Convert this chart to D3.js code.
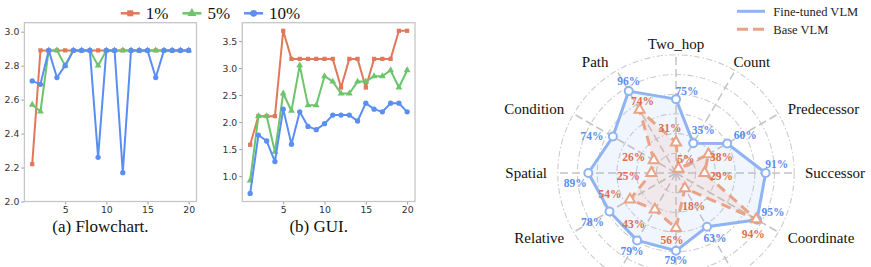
<!DOCTYPE html>
<html><head><meta charset="utf-8">
<script src="https://cdn.jsdelivr.net/npm/d3@7"></script>
<style>body{margin:0;background:#fff;} svg{display:block;}</style>
</head><body><svg id="c" width="871" height="267"></svg>
<script>
// ---------- data ----------
const steps = [1,2,3,4,5,6,7,8,9,10,11,12,13,14,15,16,17,18,19,20];
const seriesNames = ["1%","5%","10%"];
const flow1  = [2.22,2.89,2.89,2.89,2.89,2.89,2.89,2.89,2.89,2.89,2.89,2.89,2.89,2.89,2.89,2.89,2.89,2.89,2.89,2.89];
const flow5  = [2.57,2.53,2.89,2.89,2.80,2.89,2.89,2.89,2.80,2.89,2.89,2.89,2.89,2.89,2.89,2.89,2.89,2.89,2.89,2.89];
const flow10 = [2.71,2.69,2.89,2.73,2.80,2.89,2.89,2.89,2.26,2.89,2.89,2.17,2.89,2.89,2.89,2.73,2.89,2.89,2.89,2.89];
const gui1   = [1.58,2.11,2.11,2.11,3.69,3.17,3.17,3.17,3.17,3.17,3.17,2.64,3.17,3.17,2.64,3.17,3.17,3.17,3.69,3.69];
const gui5   = [0.92,2.11,2.11,1.45,2.53,2.21,3.05,2.31,2.31,2.85,2.75,2.53,2.53,2.75,2.75,2.85,2.85,2.96,2.64,2.96];
const gui10  = [0.68,1.76,1.65,1.27,2.24,1.59,2.19,1.92,1.86,1.97,2.13,2.13,2.13,2.02,2.35,2.24,2.19,2.35,2.35,2.19];
const flowYTicks = [2.0,2.2,2.4,2.6,2.8,3.0];
const guiYTicks  = [1.0,1.5,2.0,2.5,3.0,3.5];
const xTicks = [5,10,15,20];
const captions = ["(a) Flowchart.","(b) GUI."];

const radarCategories = ["Two_hop","Count","Predecessor","Successor","Coordinate","","","","Relative","Spatial","Condition","Path"];
const fineTuned = [75,35,60,91,95,63,79,79,78,89,74,96];
const baseVLM   = [31,5,38,29,94,18,56,43,54,25,26,74];
const radarLevels = [20,40,60,80,100,120];
const radarSeries = ["Fine-tuned VLM","Base VLM"];

// ---------- layout / styles ----------
// pixel nudges of the value annotations relative to their vertex
const fineLabelNudge = [[11,-8],[10,-13],[18,-8],[11,-9],[16,-8],[8,11],[0,9.5],[-5,11],[-17,11],[-13,10],[-21,-1],[0,-10]];
const baseLabelNudge = [[-6,-14],[7.5,-10],[13,2.5],[17,3],[-3,15],[9,18],[-4,12],[-21,14],[-20,-6],[-23,3],[-20,-3.5],[3,-9]];
const lineColors = ["#e1785a","#6cc46b","#5b8ef1"];
const symbols = [d3.symbolSquare, d3.symbolTriangle, d3.symbolCircle];
const symbolSizes = [18, 20, 22];
const serif = "'Liberation Serif','Times New Roman',serif";
const sans = "'DejaVu Sans',sans-serif";

const svg = d3.select("#c");
svg.append("rect").attr("width",871).attr("height",267).attr("fill","#fff");

function lineChart(box, yDomain, yTicks, data, caption){
  const x = d3.scaleLinear([0.05, 20.95], [box.l, box.r]);
  const y = d3.scaleLinear(yDomain, [box.b, box.t]);
  const g = svg.append("g");
  const ax = g.append("g").attr("transform",`translate(${box.l},0)`)
    .call(d3.axisLeft(y).tickValues(yTicks).tickFormat(d3.format(".1f")).tickSize(3).tickPadding(2));
  const bx = g.append("g").attr("transform",`translate(0,${box.b})`)
    .call(d3.axisBottom(x).tickValues(xTicks).tickSize(3).tickPadding(2));
  [ax,bx].forEach(a=>{
    a.select(".domain").remove();
    a.selectAll("line").attr("stroke","#999");
    a.selectAll("text").attr("font-family",sans).attr("font-size","9.3px").attr("fill","#333");
  });
  g.append("rect").attr("x",box.l).attr("y",box.t).attr("width",box.r-box.l).attr("height",box.b-box.t)
    .attr("fill","none").attr("stroke","#c6c6c6").attr("stroke-width",1.3);
  data.forEach((vals,si)=>{
    const pts = steps.map((s,i)=>[s,vals[i]]);
    g.append("path").datum(pts).attr("fill","none").attr("stroke",lineColors[si]).attr("stroke-width",2)
      .attr("stroke-linejoin","round")
      .attr("d", d3.line().x(d=>x(d[0])).y(d=>y(d[1])));
    g.selectAll(null).data(pts).join("path")
      .attr("transform",d=>`translate(${x(d[0])},${y(d[1])})`)
      .attr("d", d3.symbol(symbols[si], symbolSizes[si]))
      .attr("fill",lineColors[si]);
  });
  g.append("text").attr("x",(box.l-20+box.r)/2).attr("y",232).attr("text-anchor","middle")
    .attr("font-family",serif).attr("font-size","17px").attr("fill","#111").text(caption);
}

lineChart({l:24.4,r:196.5,t:22.7,b:201.5},[2.0,3.053],flowYTicks,[flow1,flow5,flow10],captions[0]);
lineChart({l:242.3,r:415,t:22.7,b:201.5},[0.53,3.84],guiYTicks,[gui1,gui5,gui10],captions[1]);

// legend for line charts
(function(){
  const lg = svg.append("g");
  let xpos = 0;
  seriesNames.forEach((n,i)=>{
    const it = lg.append("g").attr("transform",`translate(${xpos},0)`);
    it.append("line").attr("x1",0).attr("x2",19).attr("y1",0).attr("y2",0).attr("stroke",lineColors[i]).attr("stroke-width",2.5);
    it.append("path").attr("transform","translate(9.5,0)").attr("d",d3.symbol(symbols[i],36)).attr("fill",lineColors[i]);
    const t = it.append("text").attr("x",25).attr("y",0).attr("dy","0.35em").attr("font-family",serif)
      .attr("font-size","17px").attr("fill","#111").text(n);
    xpos += 25 + t.node().getComputedTextLength() + 14;
  });
  const total = xpos - 14;
  lg.attr("transform",`translate(${210.5-total/2},13.3)`);
})();

// ---------- radar ----------
const cx = 676, cy = 173;
const rS = d3.scaleLinear([0,100],[0,98.5]);
const N = radarCategories.length;
const ang = i => i*2*Math.PI/N;
const pt = (i,r) => [cx + r*Math.sin(ang(i)), cy - r*Math.cos(ang(i))];
const rg = svg.append("g");
radarLevels.forEach(l=>{
  rg.append("circle").attr("cx",cx).attr("cy",cy).attr("r",rS(l)).attr("fill","none")
    .attr("stroke","#cccccc").attr("stroke-width",1.1).attr("stroke-dasharray","6,2.5,1.5,2.5");
});
radarCategories.forEach((c,i)=>{
  const [x2,y2] = pt(i, rS(d3.max(radarLevels)));
  rg.append("line").attr("x1",cx).attr("y1",cy).attr("x2",x2).attr("y2",y2)
    .attr("stroke","#c4c4c4").attr("stroke-width",1.5).attr("stroke-dasharray","8,4");
});
const radial = d3.lineRadial().angle((d,i)=>ang(i)).radius(d=>rS(d)).curve(d3.curveLinearClosed);
const radarColors = ["#8fb4f1","#e9a487"];
const labelColors = ["#5b8def","#dd6f4c"];
rg.append("path").datum(fineTuned).attr("transform",`translate(${cx},${cy})`).attr("d",radial)
  .attr("fill","rgba(143,180,241,0.13)").attr("stroke",radarColors[0]).attr("stroke-width",3).attr("stroke-linejoin","round");
rg.append("path").datum(baseVLM).attr("transform",`translate(${cx},${cy})`).attr("d",radial)
  .attr("fill","rgba(233,164,135,0.15)").attr("stroke",radarColors[1]).attr("stroke-width",3)
  .attr("stroke-dasharray","10,6").attr("stroke-linejoin","round");
fineTuned.forEach((v,i)=>{
  const [x,y] = pt(i,rS(v));
  rg.append("circle").attr("cx",x).attr("cy",y).attr("r",4).attr("fill","#fff").attr("stroke",radarColors[0]).attr("stroke-width",2);
});
baseVLM.forEach((v,i)=>{
  const [x,y] = pt(i,rS(v));
  rg.append("path").attr("transform",`translate(${x},${y})`).attr("d",d3.symbol(d3.symbolTriangle,45))
    .attr("fill","#fff").attr("stroke",radarColors[1]).attr("stroke-width",2);
});
[[fineTuned,0,fineLabelNudge],[baseVLM,1,baseLabelNudge]].forEach(([vals,si,nudge])=>{
  vals.forEach((v,i)=>{
    const [x,y] = pt(i,rS(v));
    rg.append("text").attr("x",x+nudge[i][0]).attr("y",y+nudge[i][1]).attr("dy","0.35em").attr("text-anchor","middle")
      .attr("font-family",serif).attr("font-weight","bold").attr("font-size","11.5px")
      .attr("fill",labelColors[si]).text(v+"%");
  });
});
radarCategories.forEach((c,i)=>{
  if(!c) return;
  const [x,y] = pt(i,129);
  const s = Math.sin(ang(i));
  const shift = (s>0.1 && s<0.6) ? -7 : ((s<-0.1 && s>-0.6) ? -3 : 0);
  rg.append("text").attr("x",x+shift).attr("y",y).attr("dy","0.35em")
    .attr("text-anchor", s>0.1?"start":(s<-0.1?"end":"middle"))
    .attr("font-family",serif).attr("font-size","15px").attr("fill","#111").text(c);
});
// radar legend
radarSeries.forEach((n,i)=>{
  const y = 11.3 + i*18;
  svg.append("line").attr("x1",737).attr("x2",765).attr("y1",y).attr("y2",y)
    .attr("stroke",radarColors[i]).attr("stroke-width",3).attr("stroke-dasharray",i?"11,5":null);
  svg.append("text").attr("x",773.3).attr("y",y).attr("dy","0.35em").attr("font-family",serif)
    .attr("font-size","12.5px").attr("fill","#222").text(n);
});
</script></body></html>
